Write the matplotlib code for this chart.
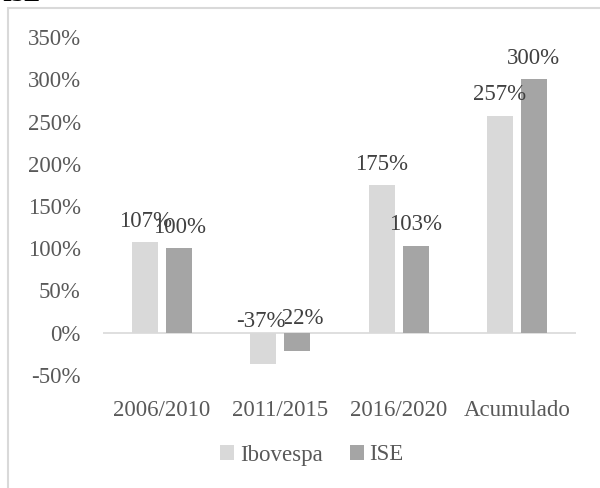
import numpy as np
import matplotlib.pyplot as plt
from matplotlib.patches import Rectangle

plt.rcParams['font.family'] = ['Liberation Serif', 'DejaVu Serif']

categories = ["2006/2010", "2011/2015", "2016/2020", "Acumulado"]
ibovespa = [107, -37, 175, 257]
ise = [100, -22, 103, 300]
ytick_vals = [-50, 0, 50, 100, 150, 200, 250, 300, 350]

c_ibov = "#D9D9D9"
c_ise = "#A5A5A5"
txt = "#595959"
lab = "#404040"
fs = 16.5

fig = plt.figure(figsize=(6, 4.88), dpi=100)
ax = fig.add_axes([103/600, 1-375/488, 473/600, 338/488])

x = np.arange(len(categories))
w = 0.22
off = 0.144
b1 = ax.bar(x - off, ibovespa, w, color=c_ibov, label="Ibovespa", zorder=2)
b2 = ax.bar(x + off, ise, w, color=c_ise, label="ISE", zorder=2)

ax.set_xlim(-0.5, len(categories) - 0.5)
ax.set_ylim(-50, 350)
ax.axhline(0, color="#D9D9D9", lw=1.2, zorder=1)

ax.set_yticks(ytick_vals)
ax.set_yticklabels([f"{v}%" for v in ytick_vals])
ax.set_xticks(x)
ax.set_xticklabels(categories)
ax.tick_params(length=0, labelsize=fs, colors=txt)
ax.tick_params(axis='y', pad=16)
ax.tick_params(axis='x', pad=18)
for s in ax.spines.values():
    s.set_visible(False)

# data labels; negative ones sit above the zero line
for bars, vals, neg_y, dx in [(b2, ise, 17, 1), (b1, ibovespa, 13, -2)]:
    for rect, v in zip(bars, vals):
        cx = rect.get_x() + rect.get_width() / 2
        if v >= 0:
            ax.annotate(f"{v}%", (cx, v), xytext=(0, 15), textcoords="offset points",
                        ha="center", va="center", fontsize=fs, color=lab)
        else:
            t = ax.annotate(f"{v}%", (cx, neg_y), xytext=(dx, 0), textcoords="offset points",
                            ha="center", va="center", fontsize=fs, color=lab)
            if bars is b1:
                t.set_bbox(dict(facecolor="white", edgecolor="none", pad=0))

leg = fig.legend(loc="center", bbox_to_anchor=(312/600, 1-455/488), ncol=2, frameon=False,
                 fontsize=fs, handlelength=0.6, handleheight=0.6, handletextpad=0.25,
                 columnspacing=1.2)
for t in leg.get_texts():
    t.set_color(txt)

fig.patches.append(Rectangle((8/600, -0.1), 1.0, 1 - 8/488 + 0.1, transform=fig.transFigure,
                             fill=False, edgecolor="#D9D9D9", lw=1.5))
fig.text(2/600, 1 - 1/488, "ISE", ha="left", va="baseline", fontsize=17,
         fontweight="bold", color="black")

fig.savefig("out.png", dpi=100)
